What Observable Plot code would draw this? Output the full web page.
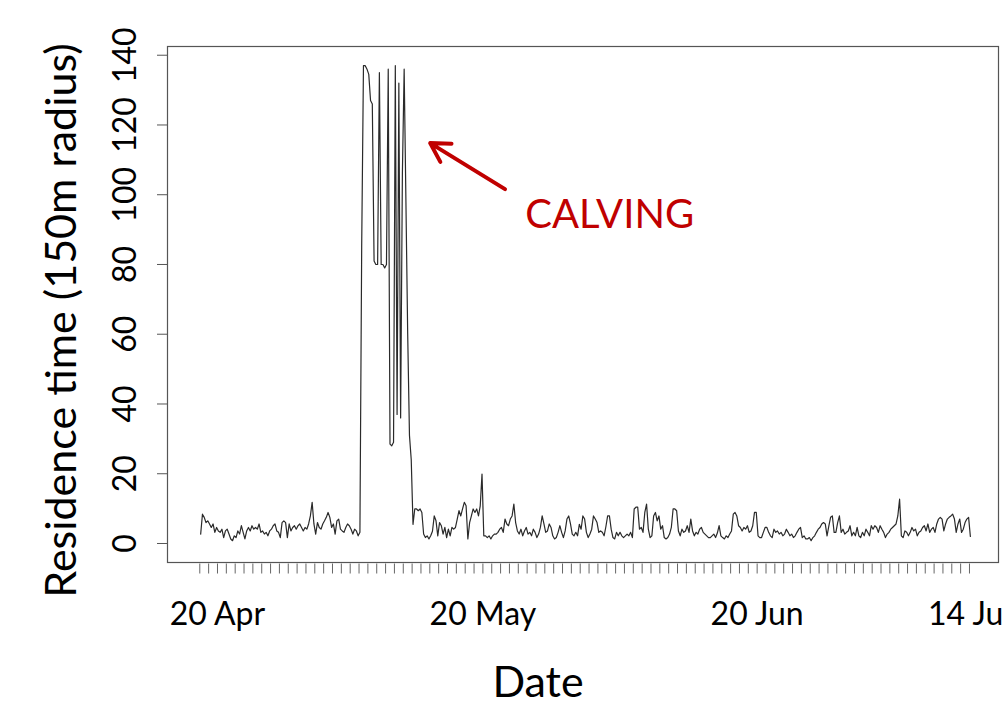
<!DOCTYPE html>
<html><head><meta charset="utf-8">
<script src="https://cdn.jsdelivr.net/npm/d3@7"></script>
<script src="https://cdn.jsdelivr.net/npm/@observablehq/plot@0.6"></script>
<style>html,body{margin:0;padding:0;background:#fff;overflow:hidden}#chart{width:1004px;height:705px}</style>
</head><body><div id="chart"></div>
<script>
// ---- data ----
const seriesStart = "2013-04-18T02:24:00Z";
const stepHours = 4.8;
const preCalving = [2.7, 8.4, 7.5, 6.0, 6.5, 5.6, 4.6, 5.6, 3.2, 4.6,
  3.6, 3.2, 4.1, 1.7, 3.6, 4.1, 2.7, 1.3, 0.8, 2.2,
  1.7, 3.6, 2.7, 5.1, 3.2, 1.3, 3.6, 4.6, 3.6, 5.1,
  4.1, 4.6, 4.1, 5.6, 3.2, 3.6, 2.7, 3.2, 2.2, 3.6,
  4.1, 5.1, 5.6, 3.6, 3.2, 1.7, 6.0, 6.5, 6.0, 1.7,
  5.6, 3.6, 4.6, 5.1, 4.1, 5.1, 5.6, 4.6, 3.6, 4.6,
  4.1, 5.6, 7.9, 11.8, 5.6, 2.7, 6.0, 4.6, 4.1, 5.6,
  6.5, 7.5, 8.9, 7.5, 4.6, 5.6, 2.7, 6.5, 7.0, 4.1,
  3.6, 3.2, 4.6, 5.6, 5.1, 4.1, 2.7, 4.1, 3.6, 2.2,
  3.2];
const calving = [85, 137, 137, 136, 134.5, 127, 126, 81, 80, 80,
  135, 80, 80, 79, 80, 136, 28.5, 28, 29, 137,
  37, 132, 36, 106, 136, 98, 60, 31, 24, 5.5,
  9.9, 9.9, 9.4, 9.9, 8.9];
const postMay = [2.7, 1.7, 2.2, 1.3, 2.2, 3.5, 7.9, 6.5, 2.2, 6.0,
  5.1, 2.7, 4.6, 1.7, 4.1, 2.2, 4.6, 4.1, 4.6, 7.0,
  9.4, 7.9, 9.9, 11.8, 10.8, 1.3, 6.0, 7.9, 9.9, 8.9,
  9.9, 7.9, 10.8, 19.9, 2.2, 2.2, 1.7, 2.2, 1.3, 2.2,
  2.7, 2.7, 3.2, 4.1, 4.6, 3.2, 7.0, 5.6, 5.1, 7.0,
  7.9, 11.3, 6.0, 3.6, 2.7, 4.1, 2.2, 3.6, 4.6, 2.7,
  3.2, 2.2, 4.1, 3.2, 1.7, 2.7, 4.6, 7.9, 5.6, 3.2,
  3.6, 5.6, 4.6, 2.2, 1.3, 1.7, 3.2, 5.1, 3.2, 1.7,
  3.6, 7.0, 7.9, 5.6, 2.7, 2.2, 3.2, 2.2, 5.5, 4.1,
  7.9, 7.0, 3.2, 1.7, 2.7, 4.1, 7.9, 7.0, 6.0, 3.2];
const postJune = [3.6, 3.2, 2.2, 4.8, 7.9, 7.9, 4.1, 1.7, 1.3, 3.2,
  2.2, 3.2, 2.2, 1.7, 2.2, 2.7, 2.2, 3.2, 1.7, 9.9,
  10.4, 10.4, 4.1, 4.6, 3.2, 8.9, 11.3, 4.1, 1.7, 2.2,
  7.9, 8.9, 6.5, 7.9, 4.1, 5.1, 1.7, 1.3, 1.7, 2.7,
  4.6, 9.9, 9.9, 9.4, 3.6, 2.2, 4.1, 3.2, 3.6, 5.1,
  3.2, 7.0, 3.6, 2.2, 3.2, 2.7, 4.1, 4.6, 3.2, 2.7,
  2.2, 1.7, 1.7, 2.2, 2.7, 1.7, 3.0, 5.1, 2.2, 1.7,
  1.3, 2.2, 1.7, 2.7, 3.6, 8.4, 8.9, 7.9, 5.1, 4.6,
  3.6, 4.6, 4.1, 5.1, 3.2, 3.6, 5.1, 8.9, 8.9, 2.2,
  1.7, 1.7, 3.2, 4.6, 4.6, 3.2, 2.2, 1.7, 4.1, 3.2,
  3.6, 2.7, 3.2, 2.2, 2.7, 4.1, 3.2, 2.2];
const postJuly = [2.7, 1.7, 2.2, 3.2, 4.1, 4.6, 1.7, 2.2, 1.3, 1.3,
  1.7, 0.8, 1.7, 2.2, 3.2, 4.1, 4.6, 5.6, 6.0, 5.6,
  2.2, 5.0, 7.5, 7.9, 3.2, 3.2, 6.0, 7.9, 3.2, 4.1,
  2.7, 3.2, 3.6, 5.1, 2.2, 3.2, 2.2, 4.6, 2.2, 1.7,
  3.2, 2.2, 4.1, 3.2, 2.2, 5.1, 4.1, 5.1, 4.6, 3.2,
  5.1, 4.1, 3.2, 1.7, 2.7, 3.2, 4.1, 4.6, 5.1, 5.6,
  7.9, 12.7, 2.2, 1.7, 3.6, 3.2, 2.2, 3.2, 4.6, 3.6,
  4.1, 2.2, 3.2, 3.6, 4.6, 5.1, 3.6, 5.6, 3.2, 4.1,
  4.6, 3.2, 5.6, 7.0, 7.5, 7.0, 3.6, 5.6, 7.0, 7.5,
  7.9, 8.4, 7.0, 3.2, 5.6, 7.0, 3.2, 4.1, 6.0, 7.0,
  7.5, 2.0];

const yTicks = [0, 20, 40, 60, 80, 100, 120, 140];
const tickFirstDay = "2013-04-18";
const tickLastDay = "2013-07-14";
const xLabelDates = ["2013-04-20", "2013-05-20", "2013-06-20", "2013-07-14"];
const xLabelTexts = ["20 Apr", "20 May", "20 Jun", "14 Jul"];
const xDomain = ["2013-04-14T08:24:00Z", "2013-07-17T06:43:00Z"];
const yDomain = [-5.45, 142.5];

const xTitle = "Date";
const yTitle = "Residence time (150m radius)";
const annotText = "CALVING";
const annotTextAt = ["2013-05-24T19:00:00Z", 94];
const arrowTail = ["2013-05-22T12:00:00Z", 101.6];
const arrowHead = ["2013-05-14T01:00:00Z", 114.8];

// ---- build ----
const residence = [...preCalving, ...calving, ...postMay, ...postJune, ...postJuly];
const t0 = +new Date(seriesStart);
const series = residence.map((v, i) => ({date: new Date(t0 + i * stepHours * 3600e3), value: v}));
const dayTicks = d3.utcDay.range(new Date(tickFirstDay + "T00:00:00Z"), d3.utcDay.offset(new Date(tickLastDay + "T00:00:00Z"), 1));
const xLabels = xLabelDates.map((d, i) => ({date: new Date(d + "T00:00:00Z"), text: xLabelTexts[i]}));
const arrowData = [{x1: new Date(arrowTail[0]), y1: arrowTail[1], x2: new Date(arrowHead[0]), y2: arrowHead[1]}];
const annot = [{date: new Date(annotTextAt[0]), value: annotTextAt[1], text: annotText}];

const chart = Plot.plot({
  width: 1004,
  height: 705,
  marginLeft: 167,
  marginRight: 6,
  marginTop: 46,
  marginBottom: 143,
  style: {fontFamily: "Lato, 'Open Sans', sans-serif", background: "#fff", overflow: "visible"},
  x: {type: "utc", domain: xDomain.map(d => new Date(d)), inset: 0},
  y: {domain: yDomain, inset: 0},
  marks: [
    Plot.frame({stroke: "#555", strokeWidth: 1.2}),
    Plot.axisY({ticks: yTicks, tickSize: 10, tickFormat: () => "", stroke: "#555", label: null}),
    Plot.axisX({ticks: dayTicks, tickSize: 10, tickFormat: () => "", stroke: "#666", label: null, dy: 1.5}),
    Plot.text(yTicks, {y: d => d, text: d => String(d), frameAnchor: "left", textAnchor: "middle", lineAnchor: "middle", dx: -42, rotate: -90, fontSize: 32, fill: "#000"}),
    Plot.text(xLabels, {x: "date", text: "text", frameAnchor: "bottom", textAnchor: "middle", lineAnchor: "middle", dy: 52, fontSize: 32, fill: "#000"}),
    Plot.text([xTitle], {frameAnchor: "bottom", textAnchor: "middle", lineAnchor: "middle", dx: -45, dy: 121, fontSize: 43, fill: "#000"}),
    Plot.text([yTitle], {frameAnchor: "left", textAnchor: "middle", lineAnchor: "middle", dx: -105, dy: 16, rotate: -90, fontSize: 43, fill: "#000"}),
    Plot.line(series, {x: "date", y: "value", stroke: "#2a2a2a", strokeWidth: 1.2}),
    Plot.arrow(arrowData, {x1: "x1", y1: "y1", x2: "x2", y2: "y2", stroke: "#C00000", strokeWidth: 4, headLength: 8}),
    Plot.text(annot, {x: "date", y: "value", text: "text", textAnchor: "start", lineAnchor: "middle", fontSize: 40, fill: "#C00000"})
  ]
});
document.getElementById("chart").appendChild(chart);
</script>
</body></html>
